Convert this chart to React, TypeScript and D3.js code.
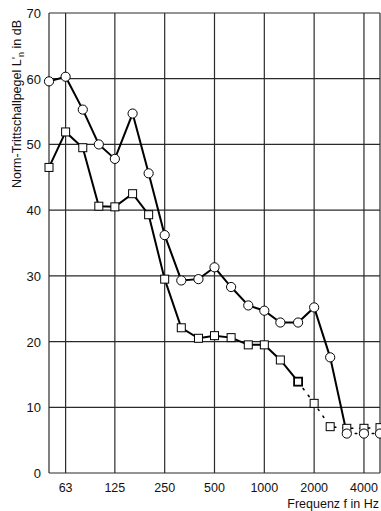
import React from "react";
import * as d3 from "d3";

const freqs = [50, 63, 80, 100, 125, 160, 200, 250, 315, 400, 500, 630, 800, 1000, 1250, 1600, 2000, 2500, 3150, 4000, 5000];
const circleValues = [59.6, 60.3, 55.3, 50.0, 47.8, 54.7, 45.6, 36.2, 29.3, 29.5, 31.3, 28.3, 25.5, 24.7, 22.9, 22.9, 25.2, 17.6, 6.0, 6.0, 6.0];
const squareValues = [46.5, 51.9, 49.5, 40.6, 40.5, 42.5, 39.3, 29.5, 22.1, 20.5, 20.9, 20.6, 19.5, 19.5, 17.2, 13.9, 10.6, 7.05, 6.8, 6.8, 6.9];
// index where the solid line ends and dotted continuation begins
const circleSolidEnd = 18;
const squareSolidEnd = 15;
const xTicks = [63, 125, 250, 500, 1000, 2000, 4000];
const yTicks = [0, 10, 20, 30, 40, 50, 60, 70];

const W = 381, H = 511;
const left = 49, right = 380, top = 13, bottom = 473;

export default function App() {
  const x = d3.scaleLog().domain([50, 5000]).range([left, right]);
  const y = d3.scaleLinear().domain([0, 70]).range([bottom, top]);
  const line = d3.line<[number, number]>().x(d => x(d[0])).y(d => y(d[1]));
  const pts = (vals: number[]) => freqs.map((f, i) => [f, vals[i]] as [number, number]);
  const cp = pts(circleValues);
  const sp = pts(squareValues);
  const font = "'Liberation Sans', Arial, sans-serif";
  return (
    <svg width={W} height={H} style={{ position: "absolute", left: 0, top: 0, background: "#fff" }}>
      {yTicks.map(t => (
        <line key={"h" + t} x1={left} x2={right} y1={y(t)} y2={y(t)} stroke="#2a2a2a" strokeWidth={1.2} />
      ))}
      {xTicks.map(t => (
        <line key={"v" + t} x1={x(t)} x2={x(t)} y1={top} y2={bottom} stroke="#2a2a2a" strokeWidth={1.2} />
      ))}
      <line x1={left} x2={left} y1={top} y2={bottom} stroke="#2a2a2a" strokeWidth={1.2} />
      <line x1={right} x2={right} y1={top} y2={bottom} stroke="#2a2a2a" strokeWidth={1.2} />
      {yTicks.map(t => (
        <text key={"yl" + t} x={41} y={y(t) + 5} textAnchor="end" fontFamily={font} fontSize={13} fill="#111">{t}</text>
      ))}
      {xTicks.map(t => (
        <text key={"xl" + t} x={x(t)} y={492} textAnchor="middle" fontFamily={font} fontSize={12.5} fill="#111">{t}</text>
      ))}
      <text x={379} y={508} textAnchor="end" fontFamily={font} fontSize={12.5} fill="#111">Frequenz f in Hz</text>
      <text transform="translate(21,104) rotate(-90)" textAnchor="middle" fontFamily={font} fontSize={12.5} fill="#111">
        Norm-Trittschallpegel L'<tspan fontSize={9} dy={3}>n</tspan><tspan dy={-3}> in dB</tspan>
      </text>
      {/* lines */}
      <path d={line(sp.slice(0, squareSolidEnd + 1)) || ""} fill="none" stroke="#000" strokeWidth={2} />
      <path d={line(sp.slice(squareSolidEnd)) || ""} fill="none" stroke="#000" strokeWidth={1.6} strokeDasharray="1.5,7" strokeLinecap="round" />
      <path d={line(cp.slice(0, circleSolidEnd + 1)) || ""} fill="none" stroke="#000" strokeWidth={2} />
      <path d={line(cp.slice(circleSolidEnd)) || ""} fill="none" stroke="#000" strokeWidth={1.6} strokeDasharray="1.5,7" strokeLinecap="round" />
      {/* markers */}
      {sp.map((d, i) => (
        <rect key={"s" + i} x={x(d[0]) - 4} y={y(d[1]) - 4} width={8} height={8} fill="#fff" stroke="#000"
          strokeWidth={i === squareSolidEnd ? 1.8 : 1} />
      ))}
      {cp.map((d, i) => (
        <circle key={"c" + i} cx={x(d[0])} cy={y(d[1])} r={4.6} fill="#fff" stroke="#000" strokeWidth={1} />
      ))}
    </svg>
  );
}
